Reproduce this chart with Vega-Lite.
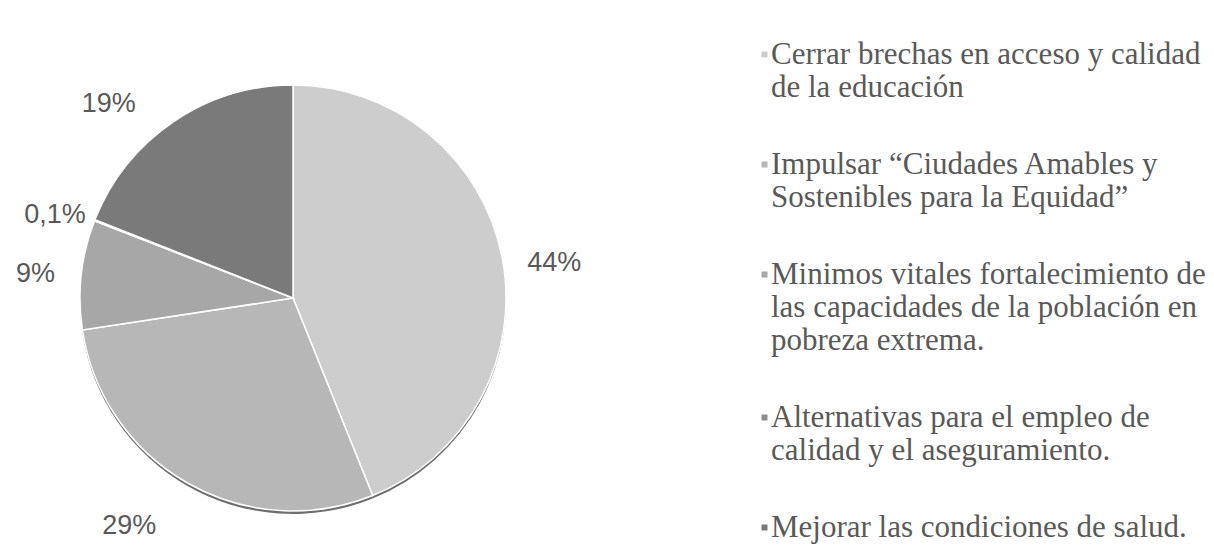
{
  "$schema": "https://vega.github.io/schema/vega-lite/v6.json",
  "width": 586,
  "height": 512,
  "autosize": {"type": "none"},
  "padding": {"left": 0, "top": 42, "right": 628, "bottom": 0},
  "background": "white",
  "view": {"stroke": null},
  "data": {
    "values": [
      {"cat": "Cerrar brechas en acceso y calidad|de la educación", "v": 43.9, "lab": "44%", "o": 1},
      {"cat": "Impulsar “Ciudades Amables y|Sostenibles  para la Equidad”", "v": 28.7, "lab": "29%", "o": 2},
      {"cat": "Minimos vitales fortalecimiento de|las capacidades de la población en|pobreza extrema.", "v": 8.3, "lab": "9%", "o": 3},
      {"cat": "Alternativas para el empleo de|calidad y el aseguramiento.", "v": 0.1, "lab": "0,1%", "o": 4},
      {"cat": "Mejorar las condiciones de salud.", "v": 19.0, "lab": "19%", "o": 5}
    ]
  },
  "encoding": {
    "theta": {"field": "v", "type": "quantitative", "stack": true},
    "order": {"field": "o", "type": "quantitative"}
  },
  "layer": [
    {
      "mark": {"type": "arc", "outerRadius": 213, "color": "#6e6e6e", "yOffset": 3, "strokeWidth": 0}
    },
    {
      "mark": {"type": "arc", "outerRadius": 213, "stroke": "white", "strokeWidth": 1.5},
      "encoding": {
        "color": {
          "field": "cat",
          "type": "nominal",
          "scale": {
            "domain": [
              "Cerrar brechas en acceso y calidad|de la educación",
              "Impulsar “Ciudades Amables y|Sostenibles  para la Equidad”",
              "Minimos vitales fortalecimiento de|las capacidades de la población en|pobreza extrema.",
              "Alternativas para el empleo de|calidad y el aseguramiento.",
              "Mejorar las condiciones de salud."
            ],
            "range": ["#cdcdcd", "#b7b7b7", "#a7a7a7", "#8e8e8e", "#7a7a7a"]
          },
          "legend": {
            "title": null,
            "orient": "none",
            "legendX": 749,
            "legendY": -3,
            "symbolType": "square",
            "symbolSize": 36,
            "symbolStrokeWidth": 0,
            "labelFont": "Liberation Serif",
            "labelFontSize": 31,
            "labelColor": "#595959",
            "labelLimit": 700,
            "labelOffset": -9,
            "rowPadding": 45,
            "labelExpr": "split(datum.label, '|')"
          }
        }
      }
    },
    {
      "mark": {"type": "text", "radius": 262, "font": "Liberation Sans", "fontSize": 27, "color": "#595959", "dx": 4, "dy": 15},
      "encoding": {"text": {"condition": {"test": "datum.o == 1", "field": "lab"}, "value": ""}}
    },
    {
      "mark": {"type": "text", "radius": 262, "font": "Liberation Sans", "fontSize": 27, "color": "#595959", "dx": -34, "dy": 0},
      "encoding": {"text": {"condition": {"test": "datum.o == 2", "field": "lab"}, "value": ""}}
    },
    {
      "mark": {"type": "text", "radius": 262, "font": "Liberation Sans", "fontSize": 27, "color": "#595959", "dx": 3, "dy": 5},
      "encoding": {"text": {"condition": {"test": "datum.o == 3", "field": "lab"}, "value": ""}}
    },
    {
      "mark": {"type": "text", "radius": 262, "font": "Liberation Sans", "fontSize": 27, "color": "#595959", "dx": 6, "dy": 13},
      "encoding": {"text": {"condition": {"test": "datum.o == 4", "field": "lab"}, "value": ""}}
    },
    {
      "mark": {"type": "text", "radius": 262, "font": "Liberation Sans", "fontSize": 27, "color": "#595959", "dx": -37, "dy": 23},
      "encoding": {"text": {"condition": {"test": "datum.o == 5", "field": "lab"}, "value": ""}}
    }
  ]
}
